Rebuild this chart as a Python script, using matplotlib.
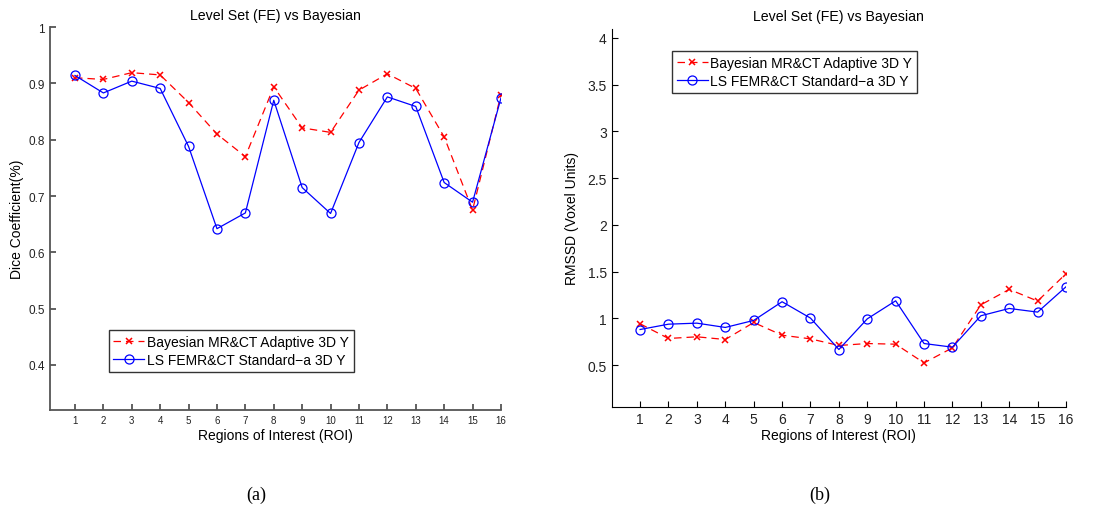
import matplotlib
matplotlib.use('Agg')
import matplotlib.pyplot as plt
import numpy as np

plt.rcParams['font.family'] = ['Liberation Sans', 'DejaVu Sans']

roi = np.arange(1, 17)

# Dice coefficient per region
dice_bayes = [0.910, 0.907, 0.919, 0.915, 0.866, 0.810, 0.770, 0.894,
              0.821, 0.813, 0.888, 0.917, 0.891, 0.805, 0.675, 0.880]
dice_ls = [0.914, 0.883, 0.904, 0.891, 0.788, 0.642, 0.670, 0.870,
           0.715, 0.669, 0.795, 0.876, 0.859, 0.724, 0.689, 0.874]

# RMSSD per region
rmssd_bayes = [0.943, 0.786, 0.804, 0.775, 0.957, 0.821, 0.782, 0.711,
               0.732, 0.725, 0.525, 0.686, 1.146, 1.311, 1.186, 1.479]
rmssd_ls = [0.882, 0.939, 0.950, 0.904, 0.979, 1.179, 1.004, 0.668,
            0.996, 1.189, 0.732, 0.693, 1.029, 1.107, 1.068, 1.339]

lab_bayes = 'Bayesian MR&CT Adaptive 3D Y'
lab_ls = 'LS FEMR&CT Standard\u2212a 3D Y'
title = 'Level Set (FE) vs Bayesian'


def style_axes(ax, xsize, ysize, spine_col, spine_w):
    ax.spines['top'].set_visible(False)
    ax.spines['right'].set_visible(False)
    for s in ('left', 'bottom'):
        ax.spines[s].set_linewidth(spine_w)
        ax.spines[s].set_color(spine_col)
    ax.tick_params(direction='in', length=4, width=spine_w, color=spine_col,
                   labelcolor='#222222')
    ax.tick_params(axis='x', labelsize=xsize)
    ax.tick_params(axis='y', labelsize=ysize)
    ax.set_xticks(roi)


def draw(ax, y1, y2):
    ax.plot(roi, y1, color='red', linestyle=(0, (6, 4)), linewidth=0.9,
            marker='x', markersize=4.5, markeredgewidth=1.1, label=lab_bayes)
    ax.plot(roi, y2, color='blue', linestyle='-', linewidth=0.9,
            marker='o', markersize=6.5, markerfacecolor='none',
            markeredgewidth=0.9, label=lab_ls)


def add_legend(ax, loc, anchor):
    ax.legend(loc=loc, bbox_to_anchor=anchor, fontsize=10,
              frameon=True, fancybox=False, edgecolor='black',
              handlelength=2.2, handletextpad=0.2, borderpad=0.35,
              labelspacing=0.3, borderaxespad=0)


fig = plt.figure(figsize=(11.13, 5.10), dpi=100)

ax1 = fig.add_axes([0.0449, 0.194, 0.4052, 0.751])
draw(ax1, dice_bayes, dice_ls)
style_axes(ax1, 7, 8.5, '#555555', 1.3)
ax1.set_xlim(0.12, 16)
ax1.set_ylim(0.32, 1.0)
ax1.set_yticks([0.4, 0.5, 0.6, 0.7, 0.8, 0.9, 1.0])
ax1.set_yticklabels(['0.4', '0.5', '0.6', '0.7', '0.8', '0.9', '1'])
ax1.set_title(title, fontsize=10.2, pad=6)
ax1.set_xlabel('Regions of Interest (ROI)', fontsize=10, labelpad=2)
ax1.set_ylabel('Dice Coefficient(%)', fontsize=10, labelpad=3)
add_legend(ax1, 'lower left', (0.13, 0.099))

ax2 = fig.add_axes([0.5496, 0.1994, 0.4082, 0.7426])
draw(ax2, rmssd_bayes, rmssd_ls)
style_axes(ax2, 10, 10, 'black', 0.8)
ax2.set_xlim(0, 16)
ax2.set_ylim(0.05, 4.1)
ax2.set_yticks([0.5, 1, 1.5, 2, 2.5, 3, 3.5, 4])
ax2.set_yticklabels(['0.5', '1', '1.5', '2', '2.5', '3', '3.5', '4'])
ax2.set_title(title, fontsize=10.2, pad=6)
ax2.set_xlabel('Regions of Interest (ROI)', fontsize=10, labelpad=1)
ax2.set_ylabel('RMSSD (Voxel Units)', fontsize=10, labelpad=6)
add_legend(ax2, 'upper left', (0.133, 0.941))

fig.text(256.7 / 1113, 1 - 495 / 510, '(a)', ha='center', va='center',
         fontsize=13, family=['Liberation Serif', 'DejaVu Serif'])
fig.text(820 / 1113, 1 - 495 / 510, '(b)', ha='center', va='center',
         fontsize=13, family=['Liberation Serif', 'DejaVu Serif'])

fig.savefig('out.png', dpi=100)
